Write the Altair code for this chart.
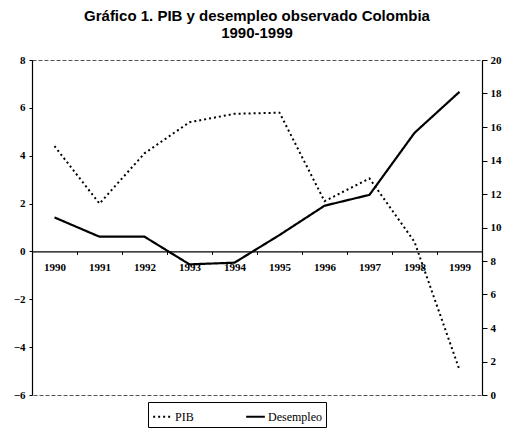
import altair as alt
import pandas as pd

anios = ["1990", "1991", "1992", "1993", "1994", "1995", "1996", "1997", "1998", "1999"]
pib = [4.4, 2.0, 4.1, 5.4, 5.75, 5.8, 2.1, 3.05, 0.4, -4.95]
desempleo = [10.6, 9.45, 9.45, 7.8, 7.9, 9.55, 11.3, 11.95, 15.65, 18.1]

left_ticks = [-6, -4, -2, 0, 2, 4, 6, 8]
right_ticks = [0, 2, 4, 6, 8, 10, 12, 14, 16, 18, 20]
series = ["PIB", "Desempleo"]

df = pd.DataFrame({"anio": anios, "PIB": pib, "Desempleo": desempleo})

W, H = 450, 335
serif = "Liberation Serif"

x = alt.X(
    "anio:O",
    scale=alt.Scale(type="band", paddingInner=0, paddingOuter=0),
    axis=alt.Axis(
        title=None, orient="bottom", offset=-H * 6 / 14, domainColor="black",
        domainWidth=1.2, tickColor="black", tickSize=3, tickBand="extent",
        labelAngle=0, labelPadding=7, labelFont=serif, labelFontWeight="bold",
        labelFontSize=11, labelColor="black",
    ),
)

dash = alt.StrokeDash(
    "serie:N",
    scale=alt.Scale(domain=series, range=[[2, 3], [1, 0]]),
    legend=alt.Legend(
        title=None, orient="none", legendX=116, legendY=342, direction="horizontal",
        symbolType="stroke", symbolStrokeColor="black", symbolStrokeWidth=2,
        symbolSize=350, strokeColor="black", fillColor="white", padding=4,
        labelFont=serif, labelFontSize=12, labelColor="black", columnPadding=48,
        labelOffset=2,
    ),
)

pib_line = alt.Chart(df).transform_calculate(serie="'PIB'").mark_line(
    color="black", strokeWidth=2
).encode(
    x=x,
    y=alt.Y(
        "PIB:Q",
        scale=alt.Scale(domain=[-6, 8], nice=False, zero=False),
        axis=alt.Axis(
            title=None, orient="left", values=left_ticks, grid=False,
            domainColor="black", domainWidth=1.2, tickColor="black", tickSize=3,
            labelFont=serif, labelFontWeight="bold", labelFontSize=11,
            labelColor="black", labelPadding=4,
        ),
    ),
    strokeDash=dash,
)

des_line = alt.Chart(df).transform_calculate(serie="'Desempleo'").mark_line(
    color="black", strokeWidth=2.2
).encode(
    x=x,
    y=alt.Y(
        "Desempleo:Q",
        scale=alt.Scale(domain=[0, 20], nice=False, zero=False),
        axis=alt.Axis(
            title=None, orient="right", values=right_ticks, grid=False,
            domainColor="black", domainWidth=1.2, tickColor="black", tickSize=5,
            labelFont=serif, labelFontWeight="bold", labelFontSize=11,
            labelColor="black", labelPadding=3,
        ),
    ),
    strokeDash=dash,
)

chart = alt.layer(pib_line, des_line).resolve_scale(y="independent").properties(
    width=W, height=H,
    padding={"left": 5, "right": 5, "top": 1, "bottom": 5},
    title=alt.Title(
        ["Gráfico 1. PIB y desempleo observado Colombia", "1990-1999"],
        font="Liberation Sans", fontSize=15, fontWeight="bold", color="black",
        anchor="middle", offset=13, lineHeight=17,
    ),
).configure_view(stroke="#555", strokeDash=[4, 2], strokeWidth=1)

chart.save("out.html", embed_options={"renderer": "svg", "actions": False})
